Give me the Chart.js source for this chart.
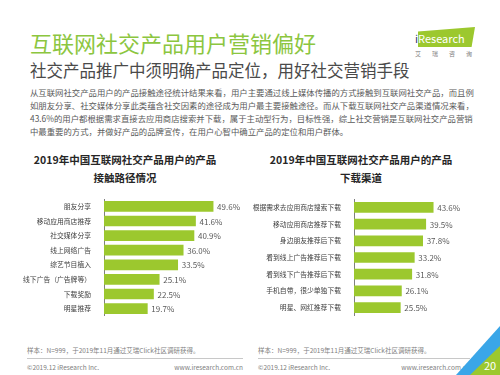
<!DOCTYPE html>
<html lang="zh">
<head>
<meta charset="UTF-8">
<title>互联网社交产品用户营销偏好</title>
<script src="https://cdn.jsdelivr.net/npm/chart.js"></script>
<style>
    body {
        margin: 0;
        width: 500px;
        height: 375px;
        position: relative;
        overflow: hidden;
        background: #fff;
        font-family: "Noto Sans CJK SC", "Noto Sans", sans-serif;
    }
    .abs { position: absolute; white-space: nowrap; }
    .title { left: 30px; top: 29px; font-size: 22px; line-height: 26px; color: #8cc63f; }
    .subtitle { left: 30px; top: 60px; font-size: 16.5px; line-height: 20px; color: #4a4a4a; }
    .para { left: 30px; top: 86px; width: 440px; font-size: 8.4px; line-height: 13px; color: #595959; }
    .para div { text-align: justify; text-align-last: justify; }
    .para div.last { text-align-last: left; }
    .ctitle { font-size: 10.5px; font-weight: bold; color: #262626; text-align: center; line-height: 18px; width: 230px; }
    .note { font-size: 6.5px; color: #808080; }
    .hr { height: 1px; background: #c8c8c8; }
    canvas { position: absolute; }
    .logo {
        left: 418px; top: 27px; width: 57px; height: 20px;
        background: #9cc82e;
        clip-path: polygon(0 22%, 100% 0, 94% 100%, 0 100%);
    }
    .logotext { left: 415px; top: 30px; font-size: 11px; color: #fff; line-height: 16px; }
    .logotext b { color: #1f3a70; font-weight: normal; }
    .logosub { left: 415px; top: 49px; font-size: 6px; color: #808080; letter-spacing: 11px; }
    .tri1 { left: 456px; top: 326px; width: 44px; height: 49px; background: #3aa6e8;
        clip-path: polygon(100% 0, 100% 100%, 0 100%); }
    .tri2 { left: 470px; top: 346px; width: 30px; height: 29px; background: #9cc82e;
        clip-path: polygon(100% 0, 100% 100%, 0 100%); }
    .page { left: 484px; top: 358px; font-size: 11px; color: #fff; line-height: 14px; }
</style>
</head>
<body>
<div class="abs title">互联网社交产品用户营销偏好</div>
<div class="abs subtitle">社交产品推广中须明确产品定位，用好社交营销手段</div>
<div class="abs logo"></div>
<div class="abs logotext"><b>i</b>Research</div>
<div class="abs logosub">艾瑞咨询</div>

<div class="abs para">
    <div>从互联网社交产品用户的产品接触途径统计结果来看，用户主要通过线上媒体传播的方式接触到互联网社交产品，而且例</div>
    <div>如朋友分享、社交媒体分享此类蕴含社交因素的途径成为用户最主要接触途径。而从下载互联网社交产品渠道情况来看，</div>
    <div>43.6%的用户都根据需求直接去应用商店搜索并下载，属于主动型行为，目标性强，综上社交营销是互联网社交产品营销</div>
    <div class="last">中最重要的方式，并做好产品的品牌宣传，在用户心智中确立产品的定位和用户群体。</div>
</div>

<div class="abs ctitle" style="left:10px; top:151px;">2019年中国互联网社交产品用户的产品<br>接触路径情况</div>
<div class="abs ctitle" style="left:246px; top:151px;">2019年中国互联网社交产品用户的产品<br>下载渠道</div>

<canvas id="leftChart" width="250" height="135" style="left:0; top:190px;"></canvas>
<canvas id="rightChart" width="250" height="135" style="left:250px; top:190px;"></canvas>

<div class="abs note" style="left:27px; top:345px;">样本：N=999，于2019年11月通过艾瑞Click社区调研获得。</div>
<div class="abs note" style="left:258px; top:345px;">样本：N=999，于2019年11月通过艾瑞Click社区调研获得。</div>
<div class="abs hr" style="left:27px; top:358px; width:216px;"></div>
<div class="abs hr" style="left:258px; top:358px; width:212px;"></div>
<div class="abs note" style="left:27px; top:362px;">©2019.12 iResearch Inc.</div>
<div class="abs note" style="left:168px; top:362px; width:75px; text-align:right;">www.iresearch.com.cn</div>
<div class="abs note" style="left:258px; top:362px;">©2019.12 iResearch Inc.</div>
<div class="abs note" style="left:395px; top:362px; width:75px; text-align:right;">www.iresearch.com.cn</div>

<div class="abs tri1"></div>
<div class="abs tri2"></div>
<div class="abs page">20</div>

<script>
    // 接触路径情况 (%)
    const contactLabels = ['朋友分享', '移动应用商店推荐', '社交媒体分享', '线上网络广告', '综艺节目植入', '线下广告（广告牌等）', '下载奖励', '明星推荐'];
    const contactValues = [49.6, 41.6, 40.9, 36.0, 33.5, 25.1, 22.5, 19.7];

    // 下载渠道 (%)
    const downloadLabels = ['根据需求去应用商店搜索下载', '移动应用商店推荐下载', '身边朋友推荐后下载', '看到线上广告推荐后下载', '看到线下广告推荐后下载', '手机自带，很少单独下载', '明星、网红推荐下载'];
    const downloadValues = [43.6, 39.5, 37.8, 33.2, 31.8, 26.1, 25.5];

    const barColor = '#9cc82e';
    const fontFamily = '"Noto Sans CJK SC", "Noto Sans", sans-serif';

    // draws the value after each bar
    const valueLabels = {
        id: 'valueLabels',
        afterDatasetsDraw(chart) {
            const ctx = chart.ctx;
            const meta = chart.getDatasetMeta(0);
            ctx.save();
            ctx.font = '8px ' + fontFamily;
            ctx.fillStyle = '#595959';
            ctx.textBaseline = 'middle';
            meta.data.forEach((bar, i) => {
                const v = chart.data.datasets[0].data[i];
                ctx.fillText(v.toFixed(1) + '%', bar.x + 4, bar.y + 0.5);
            });
            ctx.restore();
        }
    };

    function makeChart(id, labels, values, padding) {
        return new Chart(document.getElementById(id), {
            type: 'bar',
            data: {
                labels: labels,
                datasets: [{
                    data: values,
                    backgroundColor: barColor,
                    barThickness: 10
                }]
            },
            options: {
                indexAxis: 'y',
                responsive: false,
                animation: false,
                layout: { padding: padding },
                plugins: {
                    legend: { display: false },
                    tooltip: { enabled: false }
                },
                scales: {
                    x: { display: false, min: 0, max: 60 },
                    y: {
                        grid: { display: false },
                        border: { display: true, color: '#7f7f7f', width: 1 },
                        ticks: {
                            color: '#404040',
                            padding: 5,
                            font: { size: 6.8, family: fontFamily }
                        },
                        afterFit(scale) { scale.width = 104; }
                    }
                }
            },
            plugins: [valueLabels]
        });
    }

    makeChart('leftChart', contactLabels, contactValues, { left: 0, right: 14, top: 5, bottom: 3 });
    makeChart('rightChart', downloadLabels, downloadValues, { left: 0, right: 37, top: 4, bottom: 3 });
</script>
</body>
</html>
